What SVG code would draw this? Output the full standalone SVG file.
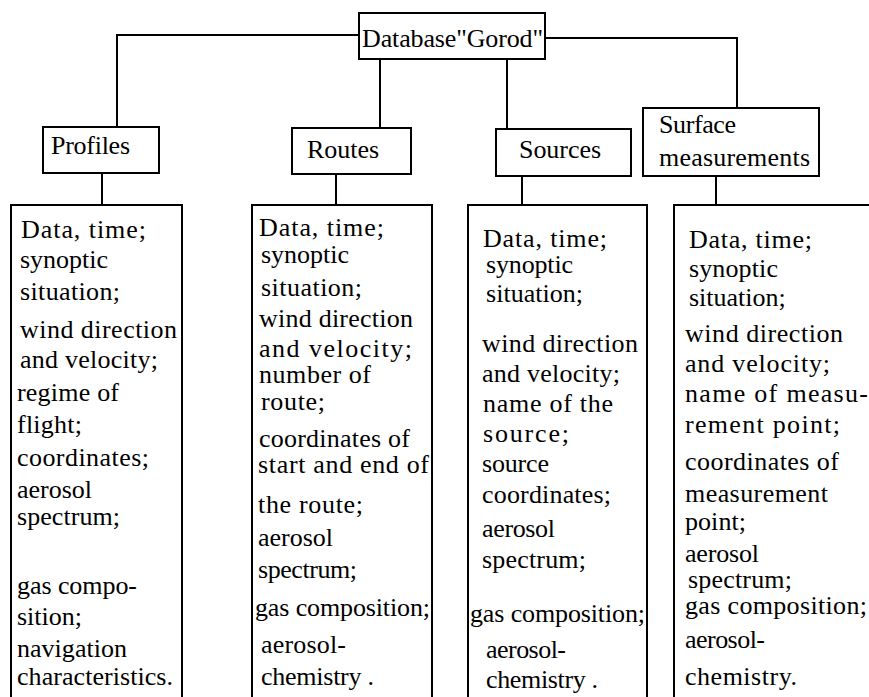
<svg xmlns="http://www.w3.org/2000/svg" width="869" height="697" viewBox="0 0 869 697">
<style>
.b{fill:#fff;stroke:#000;stroke-width:2}
.c{fill:none;stroke:#000;stroke-width:2}
</style>
<rect width="869" height="697" fill="#fff"/>
<g id="connectors">
<path class="c" d="M359 35H117V127"/>
<path class="c" d="M380 59V128"/>
<path class="c" d="M507 59V129"/>
<path class="c" d="M545 38H737V108"/>
<path class="c" d="M102 173V205"/>
<path class="c" d="M336 174V205"/>
<path class="c" d="M522 176V205"/>
<path class="c" d="M716 176V205"/>
</g>
<g id="database">
<rect class="b" x="359" y="13" width="186" height="46"/>
<text x="362" y="47" font-family="Liberation Serif" font-size="26" textLength="181" lengthAdjust="spacing">Database"Gorod"</text>
</g>
<g id="profiles">
<rect class="b" x="43" y="127" width="116" height="46"/>
<text x="51" y="154" font-family="Liberation Serif" font-size="26" textLength="79" lengthAdjust="spacing">Profiles</text>
</g>
<g id="routes">
<rect class="b" x="292" y="128" width="119" height="46"/>
<text x="307" y="158" font-family="Liberation Serif" font-size="26" textLength="72" lengthAdjust="spacing">Routes</text>
</g>
<g id="sources">
<rect class="b" x="496" y="129" width="135" height="47"/>
<text x="519" y="158" font-family="Liberation Serif" font-size="26" textLength="82" lengthAdjust="spacing">Sources</text>
</g>
<g id="surface">
<rect class="b" x="643" y="108" width="176" height="68"/>
<text x="659" y="133" font-family="Liberation Serif" font-size="26" textLength="77" lengthAdjust="spacing">Surface</text>
<text x="659" y="166" font-family="Liberation Serif" font-size="26" textLength="151" lengthAdjust="spacing">measurements</text>
</g>
<g id="profiles_list">
<rect class="b" x="11" y="205" width="171" height="510"/>
<g><text x="21" y="238" font-family="Liberation Serif" font-size="26" textLength="125" lengthAdjust="spacing">Data, time;</text></g>
<g><text x="20" y="268" font-family="Liberation Serif" font-size="26" textLength="88" lengthAdjust="spacing">synoptic</text></g>
<g><text x="20" y="300" font-family="Liberation Serif" font-size="26" textLength="100" lengthAdjust="spacing">situation;</text></g>
<g><text x="20" y="338" font-family="Liberation Serif" font-size="26" textLength="157" lengthAdjust="spacing">wind direction</text></g>
<g><text x="20" y="368" font-family="Liberation Serif" font-size="26" textLength="138" lengthAdjust="spacing">and velocity;</text></g>
<g><text x="17" y="401" font-family="Liberation Serif" font-size="26" textLength="102" lengthAdjust="spacing">regime of</text></g>
<g><text x="17" y="433" font-family="Liberation Serif" font-size="26" textLength="65" lengthAdjust="spacing">flight;</text></g>
<g><text x="17" y="466" font-family="Liberation Serif" font-size="26" textLength="132" lengthAdjust="spacing">coordinates;</text></g>
<g><text x="17" y="498" font-family="Liberation Serif" font-size="26" textLength="75" lengthAdjust="spacing">aerosol</text></g>
<g><text x="17" y="525" font-family="Liberation Serif" font-size="26" textLength="103" lengthAdjust="spacing">spectrum;</text></g>
<g><text x="17" y="594" font-family="Liberation Serif" font-size="26" textLength="120" lengthAdjust="spacing">gas compo-</text></g>
<g><text x="17" y="625" font-family="Liberation Serif" font-size="26" textLength="65" lengthAdjust="spacing">sition;</text></g>
<g><text x="17" y="657" font-family="Liberation Serif" font-size="26" textLength="110" lengthAdjust="spacing">navigation</text></g>
<g><text x="17" y="685" font-family="Liberation Serif" font-size="26" textLength="156" lengthAdjust="spacing">characteristics.</text></g>
</g>
<g id="routes_list">
<rect class="b" x="252" y="205" width="180" height="510"/>
<g><text x="259" y="236" font-family="Liberation Serif" font-size="26" textLength="125" lengthAdjust="spacing">Data, time;</text></g>
<g><text x="261" y="263" font-family="Liberation Serif" font-size="26" textLength="88" lengthAdjust="spacing">synoptic</text></g>
<g><text x="261" y="296" font-family="Liberation Serif" font-size="26" textLength="101" lengthAdjust="spacing">situation;</text></g>
<g><text x="259" y="327" font-family="Liberation Serif" font-size="26" textLength="154" lengthAdjust="spacing">wind direction</text></g>
<g><text x="259" y="357" font-family="Liberation Serif" font-size="26" textLength="153" lengthAdjust="spacing">and velocity;</text></g>
<g><text x="259" y="383" font-family="Liberation Serif" font-size="26" textLength="112" lengthAdjust="spacing">number of</text></g>
<g><text x="261" y="410" font-family="Liberation Serif" font-size="26" textLength="64" lengthAdjust="spacing">route;</text></g>
<g><text x="259" y="447" font-family="Liberation Serif" font-size="26" textLength="151" lengthAdjust="spacing">coordinates of</text></g>
<g><text x="258" y="473" font-family="Liberation Serif" font-size="26" textLength="171" lengthAdjust="spacing">start and end of</text></g>
<g><text x="258" y="513" font-family="Liberation Serif" font-size="26" textLength="105" lengthAdjust="spacing">the route;</text></g>
<g><text x="258" y="546" font-family="Liberation Serif" font-size="26" textLength="75" lengthAdjust="spacing">aerosol</text></g>
<g><text x="258" y="578" font-family="Liberation Serif" font-size="26" textLength="99" lengthAdjust="spacing">spectrum;</text></g>
<g><text x="255" y="616" font-family="Liberation Serif" font-size="26" textLength="175" lengthAdjust="spacing">gas composition;</text></g>
<g><text x="261" y="653" font-family="Liberation Serif" font-size="26" textLength="85" lengthAdjust="spacing">aerosol-</text></g>
<g><text x="261" y="685" font-family="Liberation Serif" font-size="26" textLength="113" lengthAdjust="spacing">chemistry .</text></g>
</g>
<g id="sources_list">
<rect class="b" x="468" y="205" width="179" height="510"/>
<g><text x="483" y="247" font-family="Liberation Serif" font-size="26" textLength="124" lengthAdjust="spacing">Data, time;</text></g>
<g><text x="486" y="273" font-family="Liberation Serif" font-size="26" textLength="87" lengthAdjust="spacing">synoptic</text></g>
<g><text x="486" y="302" font-family="Liberation Serif" font-size="26" textLength="97" lengthAdjust="spacing">situation;</text></g>
<g><text x="482" y="352" font-family="Liberation Serif" font-size="26" textLength="156" lengthAdjust="spacing">wind direction</text></g>
<g><text x="482" y="382" font-family="Liberation Serif" font-size="26" textLength="138" lengthAdjust="spacing">and velocity;</text></g>
<g><text x="483" y="412" font-family="Liberation Serif" font-size="26" textLength="130" lengthAdjust="spacing">name of the</text></g>
<g><text x="483" y="442" font-family="Liberation Serif" font-size="26" textLength="86" lengthAdjust="spacing">source;</text></g>
<g><text x="482" y="472" font-family="Liberation Serif" font-size="26" textLength="67" lengthAdjust="spacing">source</text></g>
<g><text x="482" y="503" font-family="Liberation Serif" font-size="26" textLength="129" lengthAdjust="spacing">coordinates;</text></g>
<g><text x="482" y="537" font-family="Liberation Serif" font-size="26" textLength="73" lengthAdjust="spacing">aerosol</text></g>
<g><text x="482" y="568" font-family="Liberation Serif" font-size="26" textLength="104" lengthAdjust="spacing">spectrum;</text></g>
<g><text x="470" y="622" font-family="Liberation Serif" font-size="26" textLength="175" lengthAdjust="spacing">gas composition;</text></g>
<g><text x="486" y="658" font-family="Liberation Serif" font-size="26" textLength="80" lengthAdjust="spacing">aerosol-</text></g>
<g><text x="486" y="688" font-family="Liberation Serif" font-size="26" textLength="112" lengthAdjust="spacing">chemistry .</text></g>
</g>
<g id="surface_list">
<rect class="b" x="674" y="205" width="210" height="510"/>
<g><text x="689" y="248" font-family="Liberation Serif" font-size="26" textLength="123" lengthAdjust="spacing">Data, time;</text></g>
<g><text x="689" y="277" font-family="Liberation Serif" font-size="26" textLength="89" lengthAdjust="spacing">synoptic</text></g>
<g><text x="689" y="306" font-family="Liberation Serif" font-size="26">situation;</text></g>
<g><text x="685" y="342" font-family="Liberation Serif" font-size="26" textLength="158" lengthAdjust="spacing">wind direction</text></g>
<g><text x="685" y="372" font-family="Liberation Serif" font-size="26" textLength="145" lengthAdjust="spacing">and velocity;</text></g>
<g><text x="685" y="402" font-family="Liberation Serif" font-size="26" textLength="183" lengthAdjust="spacing">name of measu-</text></g>
<g><text x="685" y="433" font-family="Liberation Serif" font-size="26" textLength="155" lengthAdjust="spacing">rement point;</text></g>
<g><text x="685" y="470" font-family="Liberation Serif" font-size="26" textLength="154" lengthAdjust="spacing">coordinates of</text></g>
<g><text x="685" y="502" font-family="Liberation Serif" font-size="26" textLength="143" lengthAdjust="spacing">measurement</text></g>
<g><text x="685" y="530" font-family="Liberation Serif" font-size="26" textLength="61" lengthAdjust="spacing">point;</text></g>
<g><text x="685" y="562" font-family="Liberation Serif" font-size="26" textLength="74" lengthAdjust="spacing">aerosol</text></g>
<g><text x="688" y="588" font-family="Liberation Serif" font-size="26" textLength="104" lengthAdjust="spacing">spectrum;</text></g>
<g><text x="685" y="614" font-family="Liberation Serif" font-size="26" textLength="182" lengthAdjust="spacing">gas composition;</text></g>
<g><text x="685" y="648" font-family="Liberation Serif" font-size="26" textLength="80" lengthAdjust="spacing">aerosol-</text></g>
<g><text x="685" y="685" font-family="Liberation Serif" font-size="26" textLength="112" lengthAdjust="spacing">chemistry.</text></g>
</g>
</svg>
